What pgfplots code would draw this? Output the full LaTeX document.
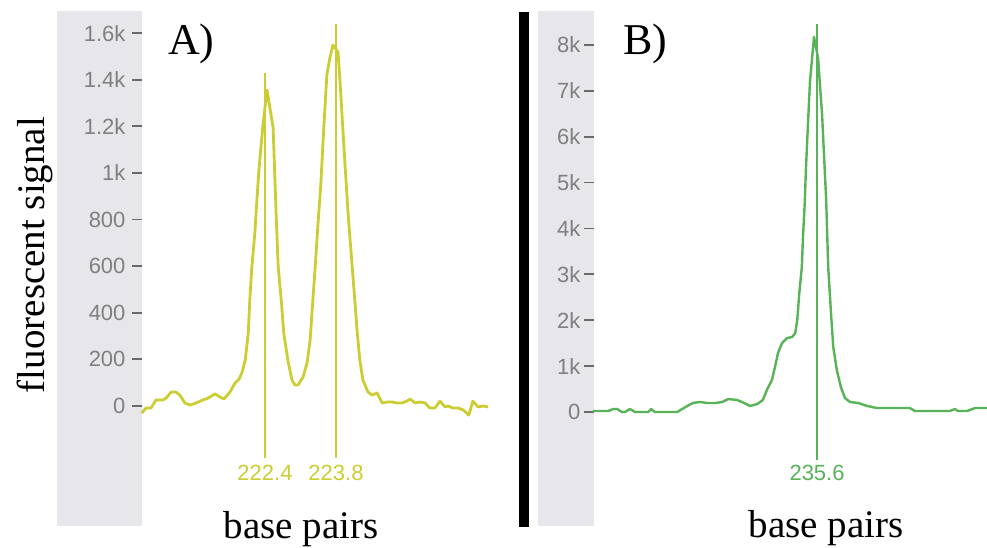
\documentclass[border=0pt]{standalone}
\usepackage{fontspec}
\setmainfont{Liberation Serif}
\newfontfamily\ticksans{Liberation Sans}
\usepackage{pgfplots}
\pgfplotsset{compat=1.18}

\definecolor{bandgray}{RGB}{230,230,235}
\definecolor{tickgray}{RGB}{105,105,105}
\definecolor{labelgray}{RGB}{128,128,128}
\definecolor{lineyellow}{RGB}{204,204,51}
\definecolor{linegreen}{RGB}{88,178,88}

\pgfplotsset{
  trace/.style={
    scale only axis, height=515pt,
    hide x axis, axis y line*=left,
    y axis line style={draw=none},
    tick align=outside, major tick length=10pt,
    ytick style={draw=tickgray, line width=1.8pt},
    yticklabel style={font=\ticksans\fontsize{22}{26}\selectfont, text=labelgray},
    clip=false,
  },
}

\begin{document}
\begin{tikzpicture}
\useasboundingbox (0pt,0pt) rectangle (987pt,547pt);
% grey strips behind the y ticks, black divider
\fill[bandgray] (57pt,21pt) rectangle (142pt,536pt);
\fill[bandgray] (538pt,21pt) rectangle (594pt,536pt);
\fill[black] (519pt,20pt) rectangle (529pt,535pt);

% A) two peaks
\begin{axis}[trace,
    at={(142pt,21pt)}, anchor=south west, width=346pt,
    xmin=219.974, xmax=226.798, ymin=-515, ymax=1695,
    ytick={0,200,...,1600},
    yticklabels={0,200,400,600,800,1k,1.2k,1.4k,1.6k},
    yticklabel style={xshift=-3pt},
]
\addplot[lineyellow, line width=2.8pt, line join=round] coordinates {
 (219.97,-30) (220.05,-9) (220.15,-9) (220.25,26) (220.39,26) (220.45,34)
 (220.55,60) (220.64,60) (220.72,47) (220.82,13) (220.92,4) (221.04,13)
 (221.18,26) (221.28,34) (221.41,52) (221.51,39) (221.59,30) (221.71,60)
 (221.81,99) (221.89,116) (221.95,146) (222.01,197) (222.07,313) (222.10,455)
 (222.14,597) (222.20,743) (222.24,884) (222.28,1013) (222.36,1206) (222.44,1356)
 (222.56,1193) (222.62,820) (222.66,597) (222.72,455) (222.77,313) (222.85,197)
 (222.93,112) (222.99,90) (223.05,90) (223.15,124) (223.23,185) (223.29,283)
 (223.33,412) (223.39,597) (223.45,798) (223.50,949) (223.56,1197) (223.62,1421)
 (223.68,1494) (223.74,1549) (223.84,1519) (223.88,1391) (223.96,1099) (224.04,820)
 (224.12,597) (224.22,313) (224.27,197) (224.33,112) (224.43,60) (224.51,47)
 (224.61,56) (224.71,13) (224.81,17) (224.91,17) (225.00,13) (225.10,13)
 (225.20,21) (225.26,30) (225.36,13) (225.46,17) (225.56,13) (225.65,-9)
 (225.75,-9) (225.85,21) (225.95,-4) (226.01,0) (226.11,-9) (226.21,-9)
 (226.31,-17) (226.42,-39) (226.50,21) (226.60,-4) (226.70,0) (226.80,-4)
};
\addplot[lineyellow, line width=2.2pt] coordinates {(222.4,-223) (222.4,1429)};
\addplot[lineyellow, line width=2.2pt] coordinates {(223.8,-223) (223.8,1640)};
\node[text=lineyellow, font=\ticksans\fontsize{22}{26}\selectfont, inner sep=0pt]
  at (222.4,-288) {222.4};
\node[text=lineyellow, font=\ticksans\fontsize{22}{26}\selectfont, inner sep=0pt]
  at (223.8,-288) {223.8};
\end{axis}

% B) single peak
\begin{axis}[trace,
    at={(594pt,21pt)}, anchor=south west, width=393pt,
    xmin=231.20, xmax=238.953, ymin=-2484, ymax=8738,
    ytick={0,1000,...,8000},
    yticklabels={0,1k,2k,3k,4k,5k,6k,7k,8k},
]
\addplot[linegreen, line width=2.4pt, line join=round] coordinates {
 (231.18,22) (231.48,22) (231.58,65) (231.66,65) (231.75,0) (231.81,0)
 (231.91,65) (232.01,0) (232.27,0) (232.33,65) (232.40,0) (232.84,0)
 (233.04,131) (233.15,196) (233.29,218) (233.43,196) (233.59,196) (233.73,218)
 (233.85,283) (234.02,261) (234.12,218) (234.28,131) (234.42,174) (234.53,261)
 (234.61,479) (234.71,697) (234.77,981) (234.83,1286) (234.91,1504) (235.01,1612)
 (235.11,1634) (235.17,1721) (235.21,2005) (235.25,2593) (235.30,3160) (235.32,3748)
 (235.36,4619) (235.38,5273) (235.42,6254) (235.46,7191) (235.54,8171) (235.62,7714)
 (235.70,6472) (235.78,4619) (235.82,3160) (235.88,2070) (235.92,1416) (235.99,915)
 (236.07,545) (236.15,305) (236.25,218) (236.41,196) (236.59,131) (236.78,87)
 (236.98,87) (237.43,87) (237.53,22) (238.22,22) (238.32,65) (238.38,22)
 (238.56,22) (238.72,87) (238.95,87)
};
\addplot[linegreen, line width=2pt] coordinates {(235.6,-1046) (235.6,8455)};
\node[text=linegreen, font=\ticksans\fontsize{22}{26}\selectfont, inner sep=0pt]
  at (235.6,-1329) {235.6};
\end{axis}

% titles and panel letters
\node[anchor=base, rotate=90, font=\fontsize{39}{44}\selectfont, inner sep=0pt]
  at (44pt,292pt) {fluorescent signal};
\node[anchor=base, font=\fontsize{39}{44}\selectfont, inner sep=0pt]
  at (301pt,9pt) {base pairs};
\node[anchor=base, font=\fontsize{39}{44}\selectfont, inner sep=0pt]
  at (826pt,10pt) {base pairs};
\node[anchor=base west, font=\fontsize{44}{50}\selectfont, inner sep=0pt]
  at (168pt,492pt) {A)};
\node[anchor=base west, font=\fontsize{44}{50}\selectfont, inner sep=0pt]
  at (623pt,492pt) {B)};
\end{tikzpicture}
\end{document}
